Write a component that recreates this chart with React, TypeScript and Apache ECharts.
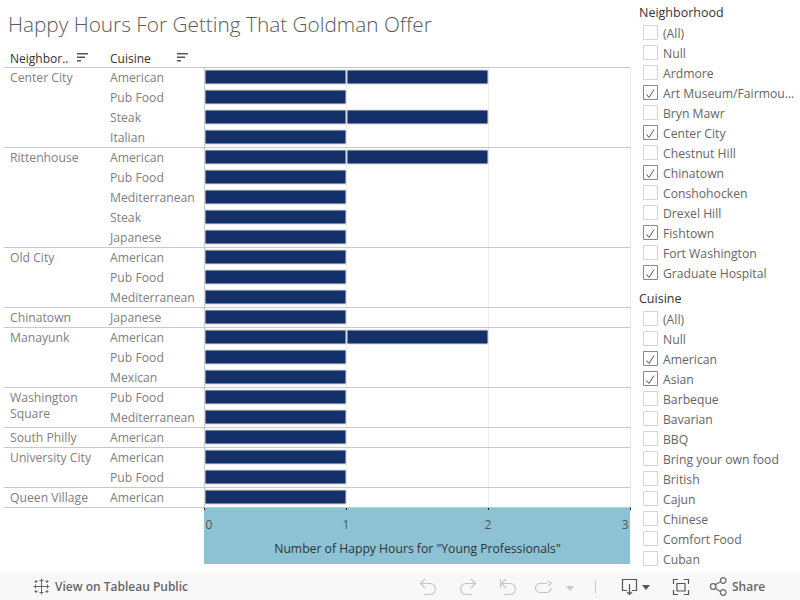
import React, { useEffect, useRef } from "react";
import * as echarts from "echarts";

const FONT = "'Open Sans', 'Noto Sans', sans-serif";
const TITLE = "Happy Hours For Getting That Goldman Offer";
const AXIS_NAME = "Number of Happy Hours for \"Young Professionals\"";
const cuisines = ["American","Pub Food","Steak","Italian","American","Pub Food","Mediterranean","Steak","Japanese","American","Pub Food","Mediterranean","Japanese","American","Pub Food","Mexican","Pub Food","Mediterranean","American","American","Pub Food","American"];
const hours = [2,1,2,1,2,1,1,1,1,1,1,1,1,2,1,1,1,1,1,1,1,1];
const groupNames = ["Center City","Rittenhouse","Old City","Chinatown","Manayunk","Washington\nSquare","South Philly","University City","Queen Village"];
const groupStarts = [0,4,9,12,13,16,18,19,21];
const neighborhoodFilter: [string, boolean][] = [["(All)",false],["Null",false],["Ardmore",false],["Art Museum/Fairmou...",true],["Bryn Mawr",false],["Center City",true],["Chestnut Hill",false],["Chinatown",true],["Conshohocken",false],["Drexel Hill",false],["Fishtown",true],["Fort Washington",false],["Graduate Hospital",true]];
const cuisineFilter: [string, boolean][] = [["(All)",false],["Null",false],["American",true],["Asian",true],["Barbeque",false],["Bavarian",false],["BBQ",false],["Bring your own food",false],["British",false],["Cajun",false],["Chinese",false],["Comfort Food",false],["Cuban",false]];

const ICONS: Record<string, string> = {
  tbUndo: "M425 579 L420.5 583.5 L425 588 M421 583.5 H430 A5.5 5.5 0 0 1 430 594.5 H424",
  tbRedo: "M471 579 L475.5 583.5 L471 588 M475 583.5 H466 A5.5 5.5 0 0 0 466 594.5 H472",
  tbRevert: "M500.5 579 V588 M506 579 L501.5 583.5 L506 588 M502 583.5 H510 A5.5 5.5 0 0 1 510 594.5 H504",
  tbForward: "M547 583.5 H540 A4.5 4.5 0 0 0 540 592.5 H547 A4.5 4.5 0 0 0 551 588 M548 581 L551.5 583.5 L548 586",
  tbDownload: "M627 590.5 H622.5 V579.5 H636.5 V590.5 H632 M629.5 584 V594.5 M627 592 L629.5 594.5 L632 592",
  tbFull: "M673.5 584 V579.5 H678 M684 579.5 H688.5 V584 M688.5 590 V594.5 H684 M678 594.5 H673.5 V590 M677 583.5 H685 V591 H677 Z",
  tbShare: "M714.5 585 L721 581.5 M714.5 588 L721 592 M716 586.5 A2.8 2.8 0 1 1 710.4 586.5 A2.8 2.8 0 1 1 716 586.5 M726 580.5 A2.8 2.8 0 1 1 720.4 580.5 A2.8 2.8 0 1 1 726 580.5 M726 592.5 A2.8 2.8 0 1 1 720.4 592.5 A2.8 2.8 0 1 1 726 592.5",
  tbFlake: "M41.5 578.5 V594.5 M33.5 586.5 H49.5 M39.5 580.5 H43.5 M39.5 592.5 H43.5 M35.5 584.5 V588.5 M47.5 584.5 V588.5 M36 580 V583 M34.5 581.5 H37.5 M47 580 V583 M45.5 581.5 H48.5 M36 590 V593 M34.5 591.5 H37.5 M47 590 V593 M45.5 591.5 H48.5",
  tbCheck: "M646.5 34.5 L649 37.5 L654 29.5",
};
Object.entries(ICONS).forEach(([k, d]) => {
  echarts.graphic.registerShape(k, echarts.graphic.extendPath(d, {}));
});

function filterPanel(title: string, titleY: number, items: [string, boolean][]) {
  const els: any[] = [{ type: "text", x: 639, y: titleY, style: { text: title, font: `12.5px ${FONT}`, fill: "#333", verticalAlign: "middle" } }];
  items.forEach(([name, on], i) => {
    const cy = titleY + 21 + i * 20;
    els.push({ type: "rect", shape: { x: 643.5, y: cy - 7.5, width: 14, height: 14 }, style: { fill: "#fff", stroke: on ? "#8a8a8a" : "#d4d4d4", lineWidth: 1 } });
    if (on) els.push({ type: "tbCheck", x: 0, y: cy - 33, style: { fill: "none", stroke: "#555", lineWidth: 1 } });
    els.push({ type: "text", x: 663, y: cy, style: { text: name, font: `12.2px ${FONT}`, fill: "#666", verticalAlign: "middle" } });
  });
  return els;
}

function sortIcon(x: number) {
  return [11, 8, 4].map((w, i) => ({ type: "rect", shape: { x, y: 53 + i * 3.5, width: w, height: 1.5 }, style: { fill: "#555" } }));
}

function icon(type: string, stroke: string, lineWidth = 1.2) {
  return { type, x: 0, y: 0, style: { fill: "none", stroke, lineWidth } };
}

export default function App() {
  const ref = useRef<HTMLDivElement>(null);
  useEffect(() => {
    document.body.style.margin = "0";
    const chart = echarts.init(ref.current!, null, { renderer: "svg" });
    chart.setOption({
      animation: false,
      backgroundColor: "#fff",
      textStyle: { fontFamily: FONT },
      title: { text: TITLE, left: 3, top: 8, textStyle: { fontFamily: FONT, fontSize: 20.8, fontWeight: 300, color: "#5a5a5a" } },
      grid: { left: 204.5, top: 67, width: 426, height: 440, containLabel: false },
      xAxis: {
        type: "value", min: 0, max: 3, interval: 1,
        position: "bottom",
        name: AXIS_NAME, nameLocation: "middle", nameGap: 35,
        nameTextStyle: { fontFamily: FONT, fontSize: 12.2, fontWeight: 500, color: "#333" },
        axisLine: { show: false },
        axisTick: { show: true, inside: false, length: 3, lineStyle: { color: "#222" } },
        axisLabel: { margin: 11, padding: [0, 2, 0, 1], fontFamily: FONT, fontSize: 12, color: "#555", alignMinLabel: "left", alignMaxLabel: "right" },
        splitLine: { show: true, lineStyle: { color: "#ececec" } },
      },
      yAxis: {
        type: "category", inverse: true, data: cuisines,
        axisLine: { show: true, lineStyle: { color: "#c8c8c8" } },
        axisTick: { show: false },
        axisLabel: { interval: 0, align: "left", margin: 94.5, padding: [1, 0, 0, 0], fontFamily: FONT, fontSize: 12.2, color: "#808080" },
      },
      graphic: [
        { type: "rect", z: -1, shape: { x: 204, y: 507, width: 426, height: 57 }, style: { fill: "#8cc2d4" } },
        { type: "rect", z: -1, shape: { x: 0, y: 573, width: 800, height: 27 }, style: { fill: "#f8f8f8" } },
        { type: "line", shape: { x1: 630.5, y1: 67, x2: 630.5, y2: 508 }, style: { stroke: "#c8c8c8" } },
        { type: "text", x: 10, y: 58.5, style: { text: "Neighbor..", font: `500 12px ${FONT}`, fill: "#333", verticalAlign: "middle" } },
        { type: "text", x: 110, y: 58.5, style: { text: "Cuisine", font: `500 12px ${FONT}`, fill: "#333", verticalAlign: "middle" } },
        ...sortIcon(77), ...sortIcon(177),
        ...filterPanel("Neighborhood", 12, neighborhoodFilter),
        ...filterPanel("Cuisine", 298, cuisineFilter),
        icon("tbFlake", "#666", 1),
        { type: "text", x: 55, y: 586.5, style: { text: "View on Tableau Public", font: `600 12px ${FONT}`, fill: "#666", verticalAlign: "middle" } },
        icon("tbUndo", "#c4c4c4"), icon("tbRedo", "#c4c4c4"), icon("tbRevert", "#c4c4c4"), icon("tbForward", "#c4c4c4"),
        { type: "polygon", shape: { points: [[566, 586], [574, 586], [570, 591]] }, style: { fill: "#c8c8c8" } },
        { type: "line", shape: { x1: 595.5, y1: 580, x2: 595.5, y2: 593 }, style: { stroke: "#c8c8c8" } },
        icon("tbDownload", "#555"),
        { type: "polygon", shape: { points: [[642, 585], [650, 585], [646, 590]] }, style: { fill: "#555" } },
        icon("tbFull", "#555"), icon("tbShare", "#666"),
        { type: "text", x: 732, y: 586.5, style: { text: "Share", font: `600 12px ${FONT}`, fill: "#666", verticalAlign: "middle" } },
      ],
      series: [
        {
          type: "bar", name: "First", stack: "h", barWidth: 15, z: 3,
          data: hours.map((v) => Math.min(v, 1)),
          itemStyle: { color: "#14306b", borderColor: "#d8d8d8", borderWidth: 1 },
        },
        {
          type: "bar", name: "Second", stack: "h", barWidth: 15, z: 3,
          data: hours.map((v) => (v > 1 ? v - 1 : null)),
          itemStyle: { color: "#14306b", borderColor: "#d8d8d8", borderWidth: 1 },
        },
        {
          type: "custom", name: "Neighborhood", z: 4, clip: false, silent: true,
          data: [...groupStarts.map((s, i) => [0, s, groupNames[i]]), [0, cuisines.length, ""]],
          encode: { x: 0, y: 1 },
          renderItem: (params: any, api: any) => {
            const row = api.value(1);
            const band = api.size([0, 1])[1];
            const c = api.coord([0, 0]);
            const top = Math.round(c[1] - band / 2 + row * band) + 0.5;
            const right = params.coordSys.x + params.coordSys.width;
            const name = groupNames[params.dataIndex] || "";
            return {
              type: "group",
              children: [
                { type: "line", shape: { x1: 4, y1: top, x2: right, y2: top }, style: { stroke: "#c8c8c8", lineWidth: 1 } },
                { type: "text", x: 10, y: top + 2, style: { text: name, font: `12.2px ${FONT}`, fill: "#808080", lineHeight: 16, verticalAlign: "top", align: "left" } },
              ],
            };
          },
        },
      ],
    });
    return () => chart.dispose();
  }, []);
  return <div ref={ref} style={{ position: "absolute", left: 0, top: 0, width: 800, height: 600 }} />;
}
